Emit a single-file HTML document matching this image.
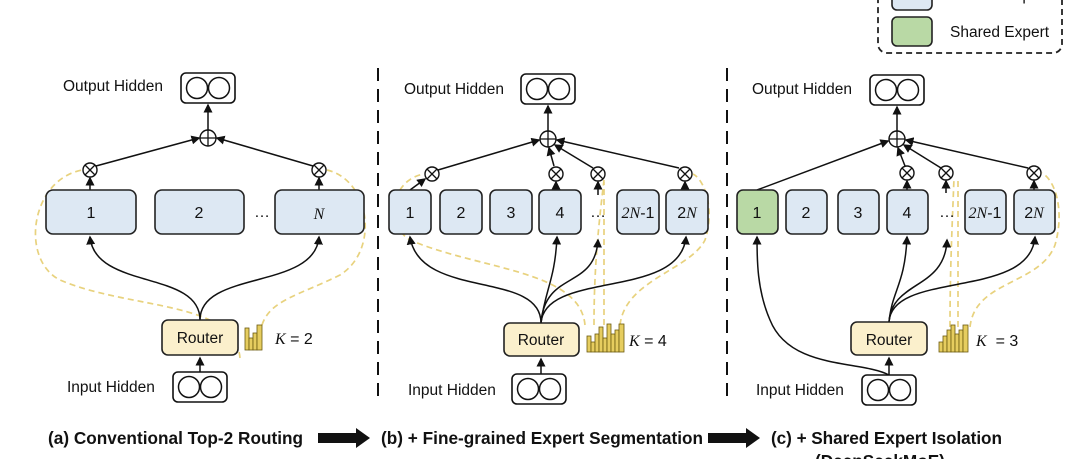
<!DOCTYPE html>
<html><head><meta charset="utf-8"><style>
html,body{margin:0;padding:0;background:#fff;}
svg{display:block;font-family:"Liberation Sans",sans-serif;}
.t{font-size:15.5px;fill:#111;}
.n{font-size:16px;fill:#111;}
.i{font-family:"Liberation Serif",serif;font-style:italic;}
.cap{font-size:17.2px;font-weight:bold;fill:#111;}
.ex{fill:#dde8f3;stroke:#222;stroke-width:1.6;}
.sh{fill:#b9d9a5;stroke:#222;stroke-width:1.6;}
.rt{fill:#fbf0cc;stroke:#222;stroke-width:1.6;}
.hb{fill:#fff;stroke:#111;stroke-width:1.6;}
.ln{fill:none;stroke:#111;stroke-width:1.5;}
.yd{fill:none;stroke:#e8d27e;stroke-width:1.7;stroke-dasharray:6 4;}
.bar{fill:#e6cd5f;stroke:#6b5a10;stroke-width:0.8;}
</style></head><body>
<svg width="1080" height="459" viewBox="0 0 1080 459">
<defs>
<marker id="a" markerWidth="6" markerHeight="6" refX="5" refY="3" orient="auto"><path d="M0,0 L6,3 L0,6 z" fill="#111"/></marker>
<g id="hid"><rect class="hb" x="0" y="0" width="54" height="30" rx="5"/><circle cx="16" cy="15" r="10.5" fill="none" stroke="#111" stroke-width="1.5"/><circle cx="38" cy="15" r="10.5" fill="none" stroke="#111" stroke-width="1.5"/></g>
<g id="pl"><circle r="8" fill="#fff" stroke="#111" stroke-width="1.4"/><path d="M-8,0H8M0,-8V8" stroke="#111" stroke-width="1.3"/></g>
<g id="ot"><circle r="7" fill="#fff" stroke="#111" stroke-width="1.4"/><path d="M-5,-5L5,5M5,-5L-5,5" stroke="#111" stroke-width="1.3"/></g>
</defs>

<rect x="878" y="-20" width="184" height="73" rx="9" fill="none" stroke="#222" stroke-width="1.8" stroke-dasharray="6 4"/>
<rect class="ex" x="892" y="-18" width="40" height="28" rx="5"/>
<text class="t" x="950" y="0">Routed Expert</text>
<rect class="sh" x="892" y="17" width="40" height="29" rx="5"/>
<text class="t" x="950" y="37">Shared Expert</text>

<line x1="378" y1="68" x2="378" y2="400" stroke="#111" stroke-width="2" stroke-dasharray="13 8"/>
<line x1="727" y1="68" x2="727" y2="400" stroke="#111" stroke-width="2" stroke-dasharray="13 8"/>

<!-- A -->
<text class="t" x="63" y="91">Output Hidden</text>
<use href="#hid" x="181" y="73"/>
<line class="ln" x1="208" y1="130" x2="208" y2="105" marker-end="url(#a)"/>
<use href="#pl" x="208" y="138"/>
<line class="ln" x1="96" y1="166" x2="199" y2="138" marker-end="url(#a)"/>
<line class="ln" x1="313" y1="166" x2="217" y2="138" marker-end="url(#a)"/>
<use href="#ot" x="90" y="170"/><use href="#ot" x="319" y="170"/>
<line class="ln" x1="90" y1="190" x2="90" y2="178" marker-end="url(#a)"/>
<line class="ln" x1="319" y1="190" x2="319" y2="178" marker-end="url(#a)"/>
<path class="yd" d="M240,358 C235,300 130,310 60,280 C20,260 30,180 82,170"/>
<path class="yd" d="M262,325 C270,300 300,295 340,275 C380,250 370,180 327,170"/>
<rect class="ex" x="46" y="190" width="90" height="44" rx="7"/><text class="n" x="91" y="218" text-anchor="middle">1</text>
<rect class="ex" x="155" y="190" width="89" height="44" rx="7"/><text class="n" x="199" y="218" text-anchor="middle">2</text>
<text class="n" x="262" y="217" text-anchor="middle">…</text>
<rect class="ex" x="275" y="190" width="89" height="44" rx="7"/><text class="n i" x="319" y="219" text-anchor="middle">N</text>
<path class="ln" d="M200,320 C200,270 95,290 90,237" marker-end="url(#a)"/>
<path class="ln" d="M200,320 C200,270 315,290 319,237" marker-end="url(#a)"/>
<rect class="rt" x="162" y="320" width="76" height="35" rx="6"/><text class="t" x="200" y="343" text-anchor="middle">Router</text>
<g class="bar"><rect x="245" y="328" width="4" height="22"/><rect x="249" y="338" width="4" height="12"/><rect x="253" y="333" width="4" height="17"/><rect x="257" y="325" width="5" height="25"/></g>
<text class="n" x="275" y="344"><tspan class="i">K</tspan> = 2</text>
<line class="ln" x1="200" y1="372" x2="200" y2="358" marker-end="url(#a)"/>
<text class="t" x="67" y="392">Input Hidden</text>
<use href="#hid" x="173" y="372"/>

<!-- B -->
<text class="t" x="404" y="94">Output Hidden</text>
<use href="#hid" x="521" y="74"/>
<line class="ln" x1="548" y1="131" x2="548" y2="106" marker-end="url(#a)"/>
<use href="#pl" x="548" y="139"/>
<line class="ln" x1="438" y1="170" x2="539" y2="140" marker-end="url(#a)"/>
<line class="ln" x1="554" y1="166" x2="549" y2="148" marker-end="url(#a)"/>
<line class="ln" x1="593" y1="168" x2="555" y2="145" marker-end="url(#a)"/>
<line class="ln" x1="679" y1="168" x2="557" y2="140" marker-end="url(#a)"/>
<use href="#ot" x="432" y="174"/><use href="#ot" x="556" y="174"/><use href="#ot" x="598" y="174"/><use href="#ot" x="685" y="174"/>
<line class="ln" x1="410" y1="190" x2="425" y2="179" marker-end="url(#a)"/>
<line class="ln" x1="556" y1="190" x2="556" y2="182" marker-end="url(#a)"/>
<line class="ln" x1="598" y1="195" x2="598" y2="182" marker-end="url(#a)"/>
<line class="ln" x1="685" y1="190" x2="685" y2="182" marker-end="url(#a)"/>
<path class="yd" d="M585,325 C580,270 480,270 410,240 C385,225 390,180 424,174"/>
<path class="yd" d="M594,325 C594,270 598,230 604,180"/>
<path class="yd" d="M604,325 V182"/>
<path class="yd" d="M620,325 C625,280 690,270 705,240 C715,210 705,180 693,174"/>
<rect class="ex" x="389" y="190" width="42" height="44" rx="6"/><text class="n" x="410" y="218" text-anchor="middle">1</text>
<rect class="ex" x="440" y="190" width="42" height="44" rx="6"/><text class="n" x="461" y="218" text-anchor="middle">2</text>
<rect class="ex" x="490" y="190" width="42" height="44" rx="6"/><text class="n" x="511" y="218" text-anchor="middle">3</text>
<rect class="ex" x="539" y="190" width="42" height="44" rx="6"/><text class="n" x="560" y="218" text-anchor="middle">4</text>
<text class="n" x="598" y="217" text-anchor="middle">…</text>
<rect class="ex" x="617" y="190" width="42" height="44" rx="6"/><text class="n" x="638" y="218" text-anchor="middle"><tspan class="i">2N</tspan>-1</text>
<rect class="ex" x="666" y="190" width="42" height="44" rx="6"/><text class="n" x="687" y="218" text-anchor="middle"><tspan>2</tspan><tspan class="i">N</tspan></text>
<path class="ln" d="M541,323 C541,270 420,300 410,237" marker-end="url(#a)"/>
<path class="ln" d="M541,323 C545,290 555,280 557,237" marker-end="url(#a)"/>
<path class="ln" d="M541,323 C545,270 595,290 598,240" marker-end="url(#a)"/>
<path class="ln" d="M541,323 C545,270 680,300 686,237" marker-end="url(#a)"/>
<rect class="rt" x="504" y="323" width="75" height="33" rx="6"/><text class="t" x="541" y="345" text-anchor="middle">Router</text>
<g class="bar"><rect x="587" y="336" width="4" height="16"/><rect x="591" y="342" width="4" height="10"/><rect x="595" y="334" width="4" height="18"/><rect x="599" y="327" width="4" height="25"/><rect x="603" y="338" width="4" height="14"/><rect x="607" y="324" width="4" height="28"/><rect x="611" y="334" width="4" height="18"/><rect x="615" y="330" width="4" height="22"/><rect x="619" y="324" width="5" height="28"/></g>
<text class="n" x="629" y="346"><tspan class="i">K</tspan> = 4</text>
<line class="ln" x1="541" y1="374" x2="541" y2="359" marker-end="url(#a)"/>
<text class="t" x="408" y="395">Input Hidden</text>
<use href="#hid" x="512" y="374"/>

<!-- C -->
<text class="t" x="752" y="94">Output Hidden</text>
<use href="#hid" x="870" y="75"/>
<line class="ln" x1="897" y1="131" x2="897" y2="107" marker-end="url(#a)"/>
<use href="#pl" x="897" y="139"/>
<line class="ln" x1="757" y1="190" x2="888" y2="141" marker-end="url(#a)"/>
<line class="ln" x1="905" y1="166" x2="898" y2="148" marker-end="url(#a)"/>
<line class="ln" x1="941" y1="168" x2="904" y2="145" marker-end="url(#a)"/>
<line class="ln" x1="1028" y1="168" x2="906" y2="140" marker-end="url(#a)"/>
<use href="#ot" x="907" y="173"/><use href="#ot" x="946" y="173"/><use href="#ot" x="1034" y="173"/>
<line class="ln" x1="907" y1="190" x2="907" y2="181" marker-end="url(#a)"/>
<line class="ln" x1="946" y1="193" x2="946" y2="181" marker-end="url(#a)"/>
<line class="ln" x1="1034" y1="190" x2="1034" y2="181" marker-end="url(#a)"/>
<path class="yd" d="M950,327 C950,270 952,230 954,178"/>
<path class="yd" d="M958,327 V178"/>
<path class="yd" d="M970,327 C975,280 1040,285 1055,245 C1065,210 1055,180 1042,173"/>
<rect class="sh" x="737" y="190" width="41" height="44" rx="6"/><text class="n" x="757" y="218" text-anchor="middle">1</text>
<rect class="ex" x="786" y="190" width="41" height="44" rx="6"/><text class="n" x="806" y="218" text-anchor="middle">2</text>
<rect class="ex" x="838" y="190" width="41" height="44" rx="6"/><text class="n" x="858" y="218" text-anchor="middle">3</text>
<rect class="ex" x="887" y="190" width="41" height="44" rx="6"/><text class="n" x="907" y="218" text-anchor="middle">4</text>
<text class="n" x="947" y="217" text-anchor="middle">…</text>
<rect class="ex" x="965" y="190" width="41" height="44" rx="6"/><text class="n" x="985" y="218" text-anchor="middle"><tspan class="i">2N</tspan>-1</text>
<rect class="ex" x="1014" y="190" width="41" height="44" rx="6"/><text class="n" x="1034" y="218" text-anchor="middle"><tspan>2</tspan><tspan class="i">N</tspan></text>
<path class="ln" d="M889,375 C860,360 790,370 770,320 C757,290 757,260 757,237" marker-end="url(#a)"/>
<path class="ln" d="M889,322 C892,290 905,285 907,237" marker-end="url(#a)"/>
<path class="ln" d="M889,322 C892,280 945,290 947,240" marker-end="url(#a)"/>
<path class="ln" d="M889,322 C892,270 1030,300 1035,237" marker-end="url(#a)"/>
<rect class="rt" x="851" y="322" width="76" height="33" rx="6"/><text class="t" x="889" y="345" text-anchor="middle">Router</text>
<g class="bar"><rect x="939" y="342" width="4" height="10"/><rect x="943" y="336" width="4" height="16"/><rect x="947" y="330" width="4" height="22"/><rect x="951" y="325" width="4" height="27"/><rect x="955" y="334" width="4" height="18"/><rect x="959" y="330" width="4" height="22"/><rect x="963" y="325" width="5" height="27"/></g>
<text class="n" x="976" y="346"><tspan class="i">K</tspan> &#160;= 3</text>
<line class="ln" x1="889" y1="375" x2="889" y2="358" marker-end="url(#a)"/>
<text class="t" x="756" y="395">Input Hidden</text>
<use href="#hid" x="862" y="375"/>

<text class="cap" x="48" y="444" textLength="255">(a) Conventional Top-2 Routing</text>
<path d="M318,433 H356 V428 L370,438 L356,448 V443 H318 z" fill="#111"/>
<text class="cap" x="381" y="444" textLength="322">(b) + Fine-grained Expert Segmentation</text>
<path d="M708,433 H746 V428 L760,438 L746,448 V443 H708 z" fill="#111"/>
<text class="cap" x="771" y="444" textLength="231">(c) + Shared Expert Isolation</text>
<text class="cap" x="815" y="467">(DeepSeekMoE)</text>
</svg>
</body></html>
